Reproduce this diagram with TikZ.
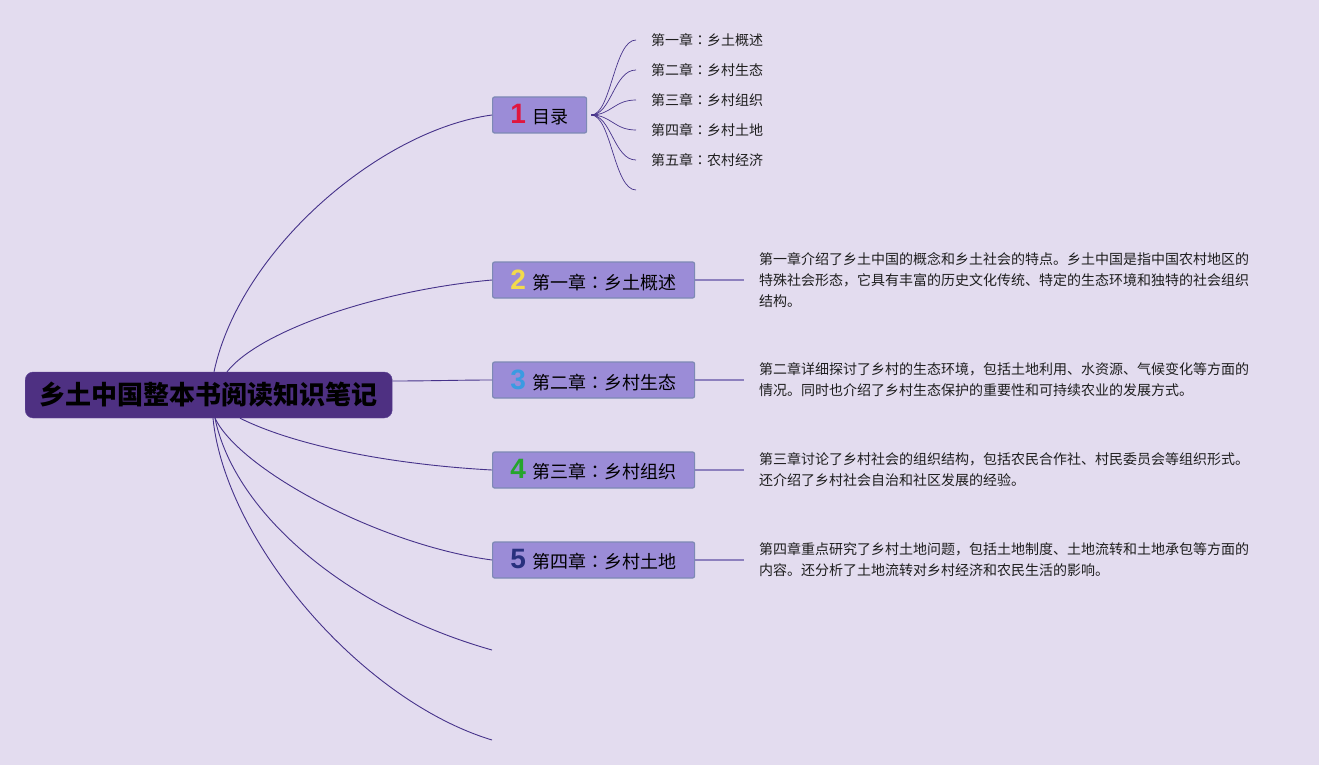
\documentclass[tikz,border=0pt]{standalone}
\usepackage{fontspec}
\setmainfont{Noto Sans CJK SC}
\newfontfamily\numfont{Liberation Sans}
\newfontfamily\jpfont{Noto Sans CJK JP}
\usepackage{xcolor}
\usetikzlibrary{positioning, calc}

\definecolor{bgpurple}{HTML}{E3DCEF}
\definecolor{rootfill}{HTML}{4E3082}
\definecolor{rootline}{HTML}{5E4596}
\definecolor{chapfill}{HTML}{9B8CD7}
\definecolor{chapline}{HTML}{7D89B4}
\definecolor{linkcol}{HTML}{46328A}
\definecolor{leafcol}{HTML}{8D80BE}
\definecolor{inkcol}{HTML}{1E1E1E}
\definecolor{numred}{HTML}{E0163E}
\definecolor{numyellow}{HTML}{F2DA4C}
\definecolor{numblue}{HTML}{3A9BE2}
\definecolor{numgreen}{HTML}{25A52B}
\definecolor{numnavy}{HTML}{28307E}

\newcommand{\chapnum}[2]{{\numfont\bfseries\fontsize{28}{28}\selectfont\color{#1}#2}\hspace{7pt}}
\newcommand{\zcolon}{{\jpfont ：}}

\begin{document}
\begin{tikzpicture}[x=1pt, y=-1pt,
  root/.style={anchor=west, draw=rootline, fill=rootfill, rounded corners=8pt,
    minimum width=367pt, minimum height=46pt, text=black,
    font=\bfseries\fontsize{26}{26}\selectfont},
  chap/.style={anchor=west, draw=chapline, fill=chapfill, line width=1.2pt,
    rounded corners=2pt, minimum height=36pt, inner xsep=0pt, text=black,
    font=\fontsize{18}{18}\selectfont},
  item/.style={inner sep=0pt, text=inkcol, font=\fontsize{14}{14}\selectfont},
  note/.style={inner sep=0pt, align=left, text=inkcol, font=\fontsize{14}{21}\selectfont},
  link/.style={draw=linkcol, line width=0.9pt},
  leaf/.style={draw=leafcol, line width=1.4pt}]

  % background / page size
  \fill[bgpurple] (0,0) rectangle (1319,765);

  % ==========================================
  % centre topic
  % ==========================================
  \node[root] (root) at (25,395) {乡土中国整本书阅读知识笔记};

  % ==========================================
  % main branches
  % ==========================================
  \node[chap, minimum width=94pt] (mulu) at (492,115) {\chapnum{numred}{1}目录};
  \node[chap, minimum width=202pt] (ch1) at (492,280) {\chapnum{numyellow}{2}第一章\zcolon 乡土概述};
  \node[chap, minimum width=202pt] (ch2) at (492,380) {\chapnum{numblue}{3}第二章\zcolon 乡村生态};
  \node[chap, minimum width=202pt] (ch3) at (492,470) {\chapnum{numgreen}{4}第三章\zcolon 乡村组织};
  \node[chap, minimum width=202pt] (ch4) at (492,560) {\chapnum{numnavy}{5}第四章\zcolon 乡村土地};
  \coordinate (e1) at (492,650);
  \coordinate (e2) at (492,740);

  % curves out of the centre topic
  \draw[link] ($(root.north west)+(189,0)$) .. controls (240,250) and (380,130) .. (mulu.west);
  \draw[link] ($(root.north west)+(202,0)$) .. controls (260,330) and (380,290) .. (ch1.west);
  \draw[link] ($(root.east)+(0,-14)$) .. controls (430,381) and (460,380) .. (ch2.west);
  \draw[link] ($(root.south west)+(215,0)$) .. controls (300,448) and (400,465) .. (ch3.west);
  \draw[link] ($(root.south west)+(190,0)$) .. controls (240,470) and (380,545) .. (ch4.west);
  \draw[link] ($(root.south west)+(190,0)$) .. controls (235,515) and (350,610) .. (e1);
  \draw[link] ($(root.south west)+(188,0)$) .. controls (225,540) and (360,700) .. (e2);

  % ==========================================
  % table of contents
  % ==========================================
  \foreach \i/\y in {1/40,2/70,3/100,4/130,5/160,6/190}
    \coordinate (t\i) at (636,\y);
  \foreach \i in {1,...,6}
    \draw[link, line width=0.7pt] ($(mulu.east)+(4,0)$) .. controls +(20,0) and +(-22,0) .. (t\i);

  \node[item, right=15pt of t1] (i1) {第一章\zcolon 乡土概述};
  \node[item, right=15pt of t2] (i2) {第二章\zcolon 乡村生态};
  \node[item, right=15pt of t3] (i3) {第三章\zcolon 乡村组织};
  \node[item, right=15pt of t4] (i4) {第四章\zcolon 乡村土地};
  \node[item, right=15pt of t5] (i5) {第五章\zcolon 农村经济};

  % ==========================================
  % chapter notes
  % ==========================================
  \foreach \c/\y in {1/280,2/380,3/470,4/560}{
    \coordinate (d\c) at (744,\y);
    \draw[leaf] (ch\c.east) -- (d\c);
  }

  \node[note, right=15pt of d1] (n1) {第一章介绍了乡土中国的概念和乡土社会的特点。乡土中国是指中国农村地区的\\
    特殊社会形态，它具有丰富的历史文化传统、特定的生态环境和独特的社会组织\\
    结构。};
  \node[note, right=15pt of d2] (n2) {第二章详细探讨了乡村的生态环境，包括土地利用、水资源、气候变化等方面的\\
    情况。同时也介绍了乡村生态保护的重要性和可持续农业的发展方式。};
  \node[note, right=15pt of d3] (n3) {第三章讨论了乡村社会的组织结构，包括农民合作社、村民委员会等组织形式。\\
    还介绍了乡村社会自治和社区发展的经验。};
  \node[note, right=15pt of d4] (n4) {第四章重点研究了乡村土地问题，包括土地制度、土地流转和土地承包等方面的\\
    内容。还分析了土地流转对乡村经济和农民生活的影响。};

\end{tikzpicture}
\end{document}
